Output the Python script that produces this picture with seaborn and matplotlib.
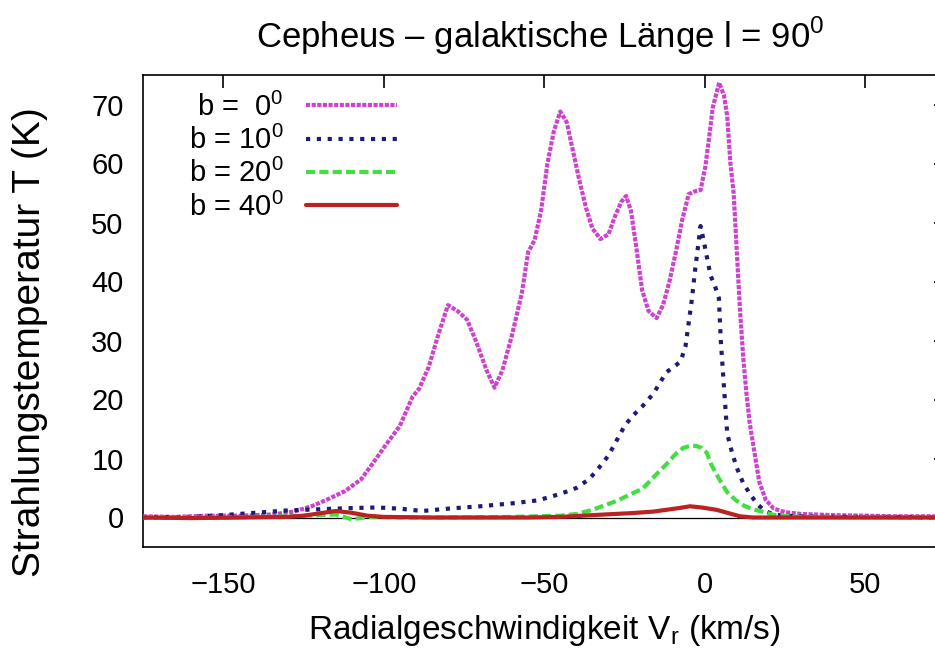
import pandas as pd
import matplotlib
matplotlib.use('Agg')
import matplotlib.pyplot as plt
import seaborn as sns

# (velocity in km/s, temperature in K)
v_b0 = [-175, -165, -155, -145, -135, -128, -122, -117, -112, -107, -103, -99.5, -95, -91, -89,
        -86, -83, -80, -77, -74, -71, -68, -65.5, -63, -60, -57, -55, -53, -51, -49, -47, -45,
        -43, -41, -39, -37, -35, -32.5, -30, -28, -26, -24.5, -23, -21.5, -19.5, -17.5, -15,
        -13, -11, -9, -7, -5, -3, -1.3, 0.2, 1.5, 2.5, 4.5, 6, 7, 8, 9, 10, 11, 12, 13, 14,
        15.5, 17, 19, 21.5, 25, 30, 40, 50, 60, 72]
t_b0 = [0.2, 0.1, 0.3, 0.3, 0.5, 1.0, 2.0, 3.2, 4.5, 6.5, 9.5, 12.2, 15.5, 20.5, 21.8,
        25.5, 31, 36, 35, 33.5, 29.5, 25, 22, 25, 31, 38, 45, 47, 52, 60, 65.5, 68.8,
        67, 62, 57, 52.5, 49, 47.2, 48, 51, 53.5, 54.5, 52, 46.5, 38.5, 35, 33.8,
        36, 40, 45, 50.5, 54.8, 55.3, 55.5, 59.5, 65, 69.5, 73.7, 71.5, 68, 60, 55, 45, 35, 27, 21, 16,
        11, 6, 3, 1.5, 0.9, 0.6, 0.4, 0.3, 0.2, 0.2]

v_b10 = [-175, -160, -150, -140, -130, -120, -110, -102, -95, -88, -80, -70, -60, -52, -45, -40,
         -36, -33, -30, -27.5, -25, -22.5, -19.5, -16, -12, -9, -7.5, -6, -4, -3, -1.3, 0, 1.8,
         3, 4.4, 5, 5.9, 7, 8.5, 10, 12, 14.3, 16.5, 18.5, 21, 24, 30, 40, 55, 72]
t_b10 = [0, 0.1, 0.4, 0.8, 1.2, 1.4, 1.6, 1.7, 1.5, 1.1, 1.5, 1.9, 2.4, 2.9, 4.0, 5.0,
         6.5, 8.4, 10.5, 13, 15.5, 17.2, 18.8, 21, 24.6, 25.8, 26.5, 29, 37, 42, 49.4, 46, 41,
         39.5, 37.2, 30, 22.8, 14.2, 11, 8.4, 5.8, 3.8, 2.2, 1.2, 0.6, 0.3, 0.2, 0.1, 0.1, 0]

v_b20 = [-175, -150, -130, -120, -115, -110, -105, -95, -80, -60, -45, -40, -35, -30, -27.5,
         -24, -19.3, -16, -12, -9, -6.7, -4, -2.5, -1, 0.6, 2, 3.8, 5.5, 7, 9.5, 12.2, 15,
         18.5, 21, 24, 30, 72]
t_b20 = [0, 0, 0.2, 0.4, 0.5, -0.3, 0.1, 0, 0, 0.1, 0.3, 0.6, 1.3, 2.3, 2.8,
         3.7, 4.9, 6.8, 9, 10.8, 11.8, 12.2, 12.1, 11.8, 11, 9, 7.2, 5.6, 4.3, 3, 2, 1.4,
         0.9, 0.5, 0.3, 0.1, 0]

v_b40 = [-175, -160, -145, -130, -125, -120, -115, -110, -105, -100, -85, -70, -55, -45, -35,
         -28, -22.5, -16, -12, -8, -4.6, -1, 3.7, 7, 11, 15, 30, 50, 72]
t_b40 = [0, -0.1, 0, 0.1, 0.3, 0.7, 1.1, 0.8, 0.3, 0.1, 0, 0, 0, 0.1, 0.4,
         0.6, 0.75, 1.0, 1.3, 1.6, 1.9, 1.7, 1.3, 0.8, 0.2, 0, 0, 0, 0]

labels = [r'b =  0$^\mathregular{0}$', r'b = 10$^\mathregular{0}$',
          r'b = 20$^\mathregular{0}$', r'b = 40$^\mathregular{0}$']
colors = ['#cc44cc', '#1c1c72', '#44dd44', '#bb2222']
dashes = [(1, 0.35), (1, 1.6), (2.2, 1), '']

df = pd.concat([
    pd.DataFrame({'v': v_b0, 'T': t_b0, 'b': labels[0]}),
    pd.DataFrame({'v': v_b10, 'T': t_b10, 'b': labels[1]}),
    pd.DataFrame({'v': v_b20, 'T': t_b20, 'b': labels[2]}),
    pd.DataFrame({'v': v_b40, 'T': t_b40, 'b': labels[3]}),
])

sns.set_style('white')
plt.rcParams['font.family'] = ['Liberation Sans', 'DejaVu Sans']
plt.rcParams['mathtext.fontset'] = 'custom'
plt.rcParams['mathtext.rm'] = 'Liberation Sans'
for k in ['text.color', 'axes.labelcolor', 'xtick.color', 'ytick.color']:
    plt.rcParams[k] = 'black'

fig = plt.figure(figsize=(9.35, 6.48), dpi=100)
ax = fig.add_axes([143 / 935, 1 - 547 / 648, 250 * 3.21 / 935, 472 / 648])

ax.axhline(0, color='black', lw=0.9, zorder=1)
sns.lineplot(data=df, x='v', y='T', hue='b', style='b', estimator=None, sort=False,
             palette=dict(zip(labels, colors)), dashes=dict(zip(labels, dashes)),
             lw=3, ax=ax, zorder=3)

ax.set_xlim(-175, 75)
ax.set_ylim(-5, 75)
ax.set_xticks([-150, -100, -50, 0, 50])
ax.set_yticks(range(0, 71, 10))
ax.set_xticklabels(['\u2212150', '\u2212100', '\u221250', '0', '50'])
ax.tick_params(direction='in', length=9, width=1.2, top=True, right=True, labelsize=21, color='black')
ax.tick_params(axis='x', pad=17)
ax.tick_params(axis='y', pad=14)
for s in ax.spines.values():
    s.set_color('black')
    s.set_linewidth(1.2)

ax.set_xlabel(r'Radialgeschwindigkeit V$_\mathregular{r}$ (km/s)', fontsize=24, labelpad=10)
ax.set_ylabel('Strahlungstemperatur T (K)', fontsize=28)
ax.yaxis.set_label_coords(-0.119, 0.434)
fig.text(540 / 935, 1 - 36 / 648, r'Cepheus – galaktische Länge l = 90$^\mathregular{0}$',
         fontsize=25, ha='center', va='center')

h, l = ax.get_legend_handles_labels()
ax.legend(h, l, loc='upper left', markerfirst=False, frameon=False, fontsize=21,
          handlelength=3.1, labelspacing=0.14, handletextpad=0.8,
          borderaxespad=0.2, bbox_to_anchor=(0.035, 1.0))

fig.savefig('out.png', dpi=100)
